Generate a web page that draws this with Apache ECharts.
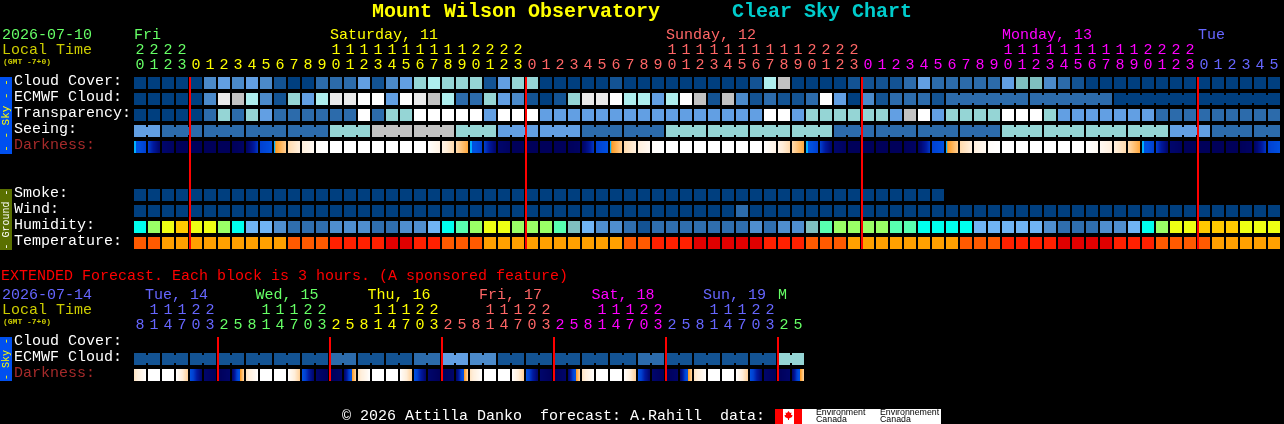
<!DOCTYPE html>
<html><head><meta charset="utf-8">
<script src="https://cdn.jsdelivr.net/npm/echarts@6/dist/echarts.min.js"></script>
<style>html,body{margin:0;padding:0;background:#000}#c{width:1284px;height:424px}</style>
</head><body><div id="c"></div>
<script>
// ---- data: main forecast (one column per hour) ----
const hourOnes = [
 0,1,2,3, 0,1,2,3,4,5,6,7,8,9,0,1,2,3,4,5,6,7,8,9,0,1,2,3,
 0,1,2,3,4,5,6,7,8,9,0,1,2,3,4,5,6,7,8,9,0,1,2,3,
 0,1,2,3,4,5,6,7,8,9,0,1,2,3,4,5,6,7,8,9,0,1,2,3,
 0,1,2,3,4,5];
const hourTens = [
 '2','2','2','2', '','','','','','','','','','','1','1','1','1','1','1','1','1','1','1','2','2','2','2',
 '','','','','','','','','','','1','1','1','1','1','1','1','1','1','1','2','2','2','2',
 '','','','','','','','','','','1','1','1','1','1','1','1','1','1','1','2','2','2','2',
 '','','','','',''];
const cloudCover = [0,0,0,0,0,3,4,3,4,3,1,0,0,2,2,2,4,1,3,4,6,7,6,6,6,1,4,6,6,0,0,0,0,0,1,0,0,0,0,0,0,0,0,0,1,7,8,0,0,0,0,1,1,1,1,2,4,2,2,2,2,2,4,5,5,3,2,1,0,0,0,0,0,0,0,0,0,0,0,0,0,0];
const ecmwfCloud = [0,0,0,0,0,3,9,8,7,3,1,6,4,7,9,9,10,10,4,10,9,8,7,2,2,6,4,3,1,0,1,6,9,9,10,7,7,4,7,10,8,1,8,3,1,2,1,1,2,10,4,0,3,1,2,2,2,1,2,2,2,2,2,2,2,2,2,2,2,2,0,0,0,0,0,0,0,0,0,0,0,0];
const ecmwfSpans = [1,1,1,1,1,1,1,1,1,1,1,1,1,1,1,1,1,1,1,1,1,1,1,1,1,1,1,1,1,1,1,1,1,1,1,1,1,1,1,1,1,1,1,1,1,1,1,1,1,1,1,1,1,1,1,1,1,1,6,6,6,6];
const transparency = [0,0,0,0,0,2,6,2,6,4,2,2,2,2,2,2,10,2,6,6,10,10,10,10,10,4,10,10,10,4,4,4,4,4,4,4,4,4,4,4,4,4,4,4,4,10,10,4,6,6,6,6,6,6,4,8,10,4,6,6,6,6,10,10,10,6,4,4,4,4,4,4,4,2,2,2,2,2,2,2,2,2];
const seeing = [4,4,2,2,2,2,2,2,2,2,2,2,2,2,6,6,6,8,8,8,8,8,8,6,6,6,4,4,4,4,4,4,2,2,2,2,2,2,6,6,6,6,6,6,6,6,6,6,6,6,2,2,2,2,2,2,2,2,2,2,2,2,6,6,6,6,6,6,6,6,6,6,6,6,4,4,4,2,2,2,2,2];
const seeingSpans = [2,3,3,3,3,3,3,3,3,3,3,3,3,3,3,3,3,3,3,3,3,3,3,3,3,3,3,2];
const darknessLeft = [4.55,3,.6,0,0,0,0,0,.3,3,4.36,6.6,7.6,8.8,9,9,9,9,9,9,9,9,8,6.6,4.55,3,.6,0,0,0,0,0,.3,3,4.36,6.6,7.6,8.8,9,9,9,9,9,9,9,9,8,6.6,4.55,3,.6,0,0,0,0,0,.3,3,4.36,6.6,7.6,8.8,9,9,9,9,9,9,9,8.6,7.6,6.6,4.55,3,.6,0,0,0,0,0,.3,3];
const darknessRight = [3,.6,.2,0,0,0,0,.3,2.8,3.9,6.2,7.6,8.6,9,9,9,9,9,9,9,9,8,6.6,5,3,.6,.2,0,0,0,0,.3,2.8,3.9,6.2,7.6,8.6,9,9,9,9,9,9,9,9,8,6.6,5,3,.6,.2,0,0,0,0,.3,2.8,3.9,6.2,7.6,8.6,9,9,9,9,9,9,9,8.6,7.6,6.6,5,3,.6,.2,0,0,0,0,.3,2.8,3.9];
const smoke = [0,0,0,0,0,0,0,0,0,0,0,0,0,0,0,0,0,0,0,0,0,0,0,0,0,0,0,0,0,0,0,0,0,0,0,0,0,0,0,0,0,0,0,0,0,0,0,0,0,0,0,0,0,0,0,0,0,0];
const wind = [0,0,0,0,0,0,0,0,0,0,0,0,0,0,0,0,0,0,0,0,0,0,0,0,0,0,0,0,0,0,0,0,0,0,0,0,0,0,0,0,0,0,0,2,0,0,0,0,0,0,0,0,0,0,0,0,0,0,0,0,0,0,0,0,0,0,0,0,0,0,0,0,0,0,0,0,0,0,0,0,0,0];
const humidity = [4,2,1,0,1,1,2,4,5,5,6,7,7,7,6,6,6,7,7,6,6,5,4,3,2,1,1,2,2,2,3,9,5,6,6,7,8,7,7,7,7,7,7,7,6,7,6,6,9,3,2,2,2,2,3,3,4,4,4,4,5,5,5,5,5,6,7,7,7,6,6,5,4,2,1,1,0,0,0,1,1,1];
const temperature = [0,0,1,1,1,1,1,1,1,1,1,0,0,0,2,2,2,2,3,3,2,2,0,0,0,1,1,1,1,1,1,1,1,1,1,0,0,2,2,2,3,3,3,3,3,2,2,2,0,0,0,1,1,1,1,1,1,1,1,0,0,0,2,2,2,2,3,3,3,3,2,2,2,0,0,0,0,1,1,1,1,1];
const midnightColumns = [4,28,52,76];
const rowNames = ['Cloud Cover:','ECMWF Cloud:','Transparency:','Seeing:','Darkness:',' ','  ','Smoke:','Wind:','Humidity:','Temperature:'];
const dayNames = ['Fri','Saturday, 11','Sunday, 12','Monday, 13','Tue'];
const dayFirstColumns = [0,14,38,62,76];
const daySpans = [4,24,24,24,6];

// ---- data: extended forecast (one column per 3 hours) ----
const extOnes = [8,1,4,7,0,3,2,5,8,1,4,7,0,3,2,5,8,1,4,7,0,3,2,5,8,1,4,7,0,3,2,5,8,1,4,7,0,3,2,5,8,1,4,7,0,3,2,5];
const extTens = ['','1','1','1','2','2','','','','1','1','1','2','2','','','','1','1','1','2','2','','','','1','1','1','2','2','','','','1','1','1','2','2','','','','1','1','1','2','2','',''];
const extEcmwf = [1,1,1,1,1,1,1,1,1,1,1,1,1,1,2,2,1,1,1,1,2,2,4,4,3,3,1,1,1,1,1,1,1,1,1,1,2,2,1,1,1,1,1,1,1,1,6,6];
const extSpans = [2,2,2,2,2,2,2,2,2,2,2,2,2,2,2,2,2,2,2,2,2,2,2,2];
const extDarkLeft = [7,9,9,9,3.9,.6,0,.5,7,9,9,9,3.9,.6,0,.5,7,9,9,9,3.9,.6,0,.5,7,9,9,9,3.9,.6,0,.5,7,9,9,9,3.9,.6,0,.5,7,9,9,9,3.9,.6,0,.5];
const extDarkRight = [9,9,9,6.2,.6,0,.5,6.5,9,9,9,6.2,.6,0,.5,6.5,9,9,9,6.2,.6,0,.5,6.5,9,9,9,6.2,.6,0,.5,6.5,9,9,9,6.2,.6,0,.5,6.5,9,9,9,6.2,.6,0,.5,6.5];
const extMidnightColumns = [6,14,22,30,38,46];
const extRowNames = ['Cloud Cover:','ECMWF Cloud:','Darkness:'];
const extDayNames = ['Tue, 14','Wed, 15','Thu, 16','Fri, 17','Sat, 18','Sun, 19','M'];
const extDayX = [145,255.5,367.5,479,591.5,703,778];
const extDaySpans = [6,8,8,8,8,8,2];

// ---- colour scales ----
const cloudColors = ['#003f7f','#135393','#2c6bab','#4b8aca','#629fe3','#7fbfbf','#95d5d5','#aeeeee','#c2c2c2','#eaeaea','#ffffff'];
const humidityColors = ['#ffc800','#eeff14','#9aff66','#58ffb0','#00ffee','#70b4f4','#4f8ece','#2f6eae','#135393','#7fbfbf'];
const temperatureColors = ['#ff5a00','#ffa000','#ff2000','#e00000'];
const palettes = [cloudColors, humidityColors, temperatureColors];
const darkStops = [[0,'#00005a'],[1,'#000a78'],[2,'#001aa0'],[3,'#0040d0'],[3.9,'#0050e0'],[4.3,'#0050e0'],[4.35,'#00b0ff'],[4.55,'#00b0ff'],[4.6,'#ff9a20'],[5.5,'#ffb860'],[6.5,'#ffd8a8'],[7.5,'#ffeeda'],[8.5,'#fff8f0'],[9,'#ffffff']];
const dayColorsMain = ['#66ff66','#ffff00','#ff6666','#ff00ff','#6666ff'];
const dayColorsExt = ['#6666ff','#66ff66','#ffff00','#ff6666','#ff00ff','#6666ff','#66ff66'];

const FONT = '"Liberation Mono", "DejaVu Sans Mono", monospace';
function hex(c){return [1,3,5].map(k=>parseInt(c.substr(k,2),16));}
function darkColor(v){
  for(let k=1;k<darkStops.length;k++){
    if(v<=darkStops[k][0]){
      const [a,ca]=darkStops[k-1],[b,cb]=darkStops[k],t=(v-a)/(b-a),A=hex(ca),B=hex(cb);
      return 'rgb('+A.map((x,n)=>Math.round(x+(B[n]-x)*t)).join(',')+')';
    }
  }
  return '#ffffff';
}
function spansToColors(spans,colors){const out=[];spans.forEach((n,d)=>{for(let i=0;i<n;i++)out.push(colors[d]);});return out;}
function linkFlags(spans){const out=[];spans.forEach(n=>{for(let i=0;i<n;i++)out.push(i<n-1?1:0);});return out;}

// items: [column,row,level,linked,paletteIndex]
function cells(values,row,paletteIndex,spans){
  const links=spans?linkFlags(spans):[];
  return values.map((v,i)=>[i,row,v,links[i]||0,paletteIndex]);
}
function renderCell(p,api){
  const c=api.coord([api.value(0),api.value(1)]),s=api.size([1,1]);
  const w=s[0]-2,h=s[1]-4,fill=palettes[api.value(4)][api.value(2)];
  const kids=[{type:'rect',shape:{x:c[0]-w/2,y:c[1]-h/2,width:w,height:h},style:{fill}}];
  if(api.value(3))kids.push({type:'rect',shape:{x:c[0]+w/2,y:c[1]-h/2+2,width:2,height:h-4},style:{fill}});
  return {type:'group',children:kids};
}
function renderDark(p,api){
  const c=api.coord([api.value(0),api.value(1)]),s=api.size([1,1]);
  const w=s[0]-2,h=s[1]-4,l=api.value(2),r=api.value(3),kids=[];
  for(let k=0;k<w;k++){
    kids.push({type:'rect',shape:{x:c[0]-w/2+k,y:c[1]-h/2,width:1,height:h},style:{fill:darkColor(l+(r-l)*(k+.5)/w)}});
  }
  return {type:'group',children:kids};
}
function renderRed(lastRow){return function(p,api){
  const a=api.coord([api.value(0),0]),b=api.coord([api.value(0),lastRow]),s=api.size([1,1]);
  const y0=a[1]-(s[1]-4)/2,y1=b[1]+(s[1]-4)/2;
  return {type:'rect',shape:{x:a[0]-s[0]/2,y:y0,width:2,height:y1-y0},style:{fill:'#ff0000'}};
};}
function customSeries(idx,data,fn,z){
  return {type:'custom',xAxisIndex:idx.x,yAxisIndex:idx.y,data,renderItem:fn,encode:{x:0,y:1},silent:true,z:z||2,animation:false,clip:false};
}
function topAxis(grid,labels,colors,offset){
  return {type:'category',gridIndex:grid,position:'top',offset,data:labels.map(String),
    boundaryGap:true,axisLine:{show:false},axisTick:{show:false},splitLine:{show:false},
    axisLabel:{show:true,interval:0,hideOverlap:false,margin:10,verticalAlign:'middle',fontFamily:FONT,fontSize:15,
      color:(v,i)=>colors[i]}};
}
function leftAxis(grid,names){
  const rowStyle={fontFamily:FONT,fontSize:15,padding:[0,0,4,0],lineHeight:15};
  return {type:'category',gridIndex:grid,inverse:true,data:names,boundaryGap:true,
    axisLine:{show:false},axisTick:{show:false},splitLine:{show:false},
    axisLabel:{show:true,interval:0,hideOverlap:false,align:'left',verticalAlign:'middle',margin:119,
      formatter:v=>(v==='Darkness:'?'{dark|':'{plain|')+v+'}',
      rich:{plain:Object.assign({color:'#ffffff'},rowStyle),dark:Object.assign({color:'#a52a2a'},rowStyle)}}};
}
function txt(x,y,text,fill,size,extra){
  return Object.assign({type:'text',x,y,silent:true,style:{text,fill,font:(extra&&extra.bold?'bold ':'')+size+'px '+FONT,textAlign:(extra&&extra.align)||'left',textVerticalAlign:'middle'}},extra&&extra.rotation?{rotation:extra.rotation}:{});
}
function rect(x,y,w,h,fill){return {type:'rect',silent:true,shape:{x,y,width:w,height:h},style:{fill}};}

const mainColors=spansToColors(daySpans,dayColorsMain);
const extColors=spansToColors(extDaySpans,dayColorsExt);

const series=[
  customSeries({x:0,y:0},cells(cloudCover,0,0),renderCell),
  customSeries({x:0,y:0},cells(ecmwfCloud,1,0,ecmwfSpans),renderCell),
  customSeries({x:0,y:0},cells(transparency,2,0),renderCell),
  customSeries({x:0,y:0},cells(seeing,3,0,seeingSpans),renderCell),
  customSeries({x:0,y:0},darknessLeft.map((l,i)=>[i,4,l,darknessRight[i]]),renderDark),
  customSeries({x:0,y:0},cells(smoke,7,0),renderCell),
  customSeries({x:0,y:0},cells(wind,8,0),renderCell),
  customSeries({x:0,y:0},cells(humidity,9,1),renderCell),
  customSeries({x:0,y:0},cells(temperature,10,2),renderCell),
  customSeries({x:0,y:0},midnightColumns.map(c=>[c,0]),renderRed(10),5),
  customSeries({x:2,y:1},cells(extEcmwf,1,0,extSpans),renderCell),
  customSeries({x:2,y:1},extDarkLeft.map((l,i)=>[i,2,l,extDarkRight[i]]),renderDark),
  customSeries({x:2,y:1},extMidnightColumns.map(c=>[c,0]),renderRed(2),5)
];

const LOGO_FONT='8.8px "Liberation Sans", sans-serif';
const graphic=[
  txt(372,12,'Mount Wilson Observatory','#ffff00',20,{bold:true}),
  txt(732,12,'Clear Sky Chart','#00cccc',20,{bold:true}),
  txt(2,35,'2026-07-10',dayColorsMain[0],15),
  txt(2,50,'Local Time','#cccc00',15),
  txt(3,62,'(GMT -7+0)','#cccc00',8,{bold:true}),
  rect(0,77,12,77,'#0050f0'),
  txt(6,115.5,'- - Sky - -','#ffff00',11,{align:'center',rotation:Math.PI/2}),
  rect(0,189,12,61,'#5a7000'),
  txt(6,219.5,'- Ground -','#ffffff',10,{align:'center',rotation:Math.PI/2}),
  txt(1,276,'EXTENDED Forecast. Each block is 3 hours. (A sponsored feature)','#ff0000',15),
  txt(2,295,'2026-07-14',dayColorsExt[0],15),
  txt(2,310,'Local Time','#cccc00',15),
  txt(3,322,'(GMT -7+0)','#cccc00',8,{bold:true}),
  rect(0,337,12,44,'#0050f0'),
  txt(6,359,'- Sky -','#ffff00',10,{align:'center',rotation:Math.PI/2}),
  txt(342,416,'\u00a9 2026 Attilla Danko  forecast: A.Rahill  data:','#ffffff',15),
  rect(775,409,166,15,'#ffffff'),
  rect(775,409,8,15,'#ff0000'),
  rect(794,409,8,15,'#ff0000'),
  {type:'polygon',silent:true,shape:{points:[[788.5,411],[790,413],[791.5,412.5],[791,415],[792.5,415],[792,417],[789,418.5],[789,420],[788,420],[788,418.5],[785,417],[784.5,415],[786,415],[785.5,412.5],[787,413]]},style:{fill:'#ff0000'}},
  {type:'text',x:816,y:413,silent:true,style:{text:'Environment',fill:'#000',font:LOGO_FONT,textVerticalAlign:'middle'}},
  {type:'text',x:816,y:420,silent:true,style:{text:'Canada',fill:'#000',font:LOGO_FONT,textVerticalAlign:'middle'}},
  {type:'text',x:880,y:413,silent:true,style:{text:'Environnement',fill:'#000',font:LOGO_FONT,textVerticalAlign:'middle'}},
  {type:'text',x:880,y:420,silent:true,style:{text:'Canada',fill:'#000',font:LOGO_FONT,textVerticalAlign:'middle'}}
];
dayNames.forEach((n,d)=>graphic.push(txt(134+dayFirstColumns[d]*14,35,n,dayColorsMain[d],15)));
extDayNames.forEach((n,d)=>graphic.push(txt(extDayX[d],295,n,dayColorsExt[d],15)));

const option={
  backgroundColor:'#000000',animation:false,tooltip:{show:false},
  grid:[
    {left:133,top:75,width:1148,height:176,containLabel:false},
    {left:133,top:335,width:672,height:48,containLabel:false}
  ],
  xAxis:[
    topAxis(0,hourOnes,mainColors,0),
    topAxis(0,hourTens,mainColors,15),
    topAxis(1,extOnes,extColors,0),
    topAxis(1,extTens,extColors,15)
  ],
  yAxis:[leftAxis(0,rowNames),leftAxis(1,extRowNames)],
  series,graphic
};
const chart=echarts.init(document.getElementById('c'),null,{renderer:'canvas',width:1284,height:424,devicePixelRatio:1});
chart.setOption(option);
</script></body></html>
